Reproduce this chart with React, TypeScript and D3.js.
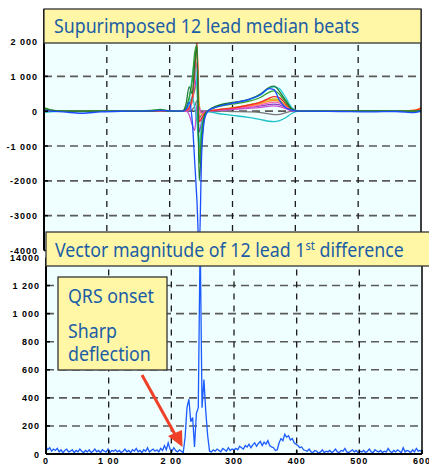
import React from "react";
import * as d3 from "d3";

// ---------- DATA ----------
const X_TOP = [0, 10, 30, 60, 90, 130, 170, 185, 200, 220, 226, 231, 236, 240, 243.5, 247, 251, 256, 262, 275, 300, 325, 345, 358, 366, 375, 385, 395, 405, 420, 470, 520, 560, 590, 600];

const LEAD_NAMES = ["olive", "gray", "purple", "orange", "pink", "magenta", "teal", "cyan", "red", "green", "darkgreen", "blue"];
const LEAD_COLORS = ["#c8b820", "#777777", "#8a3ec8", "#ff9a1a", "#ff5fb0", "#c84fd0", "#1ec0c8", "#2ad0d8", "#f62a2a", "#33a02c", "#1e7b34", "#1c4cff"];

const leadOlive = [20, 0, 0, 0, 0, 0, 0, 20, 0, 0, 10, 60, 350, 600, 800, -1200, -500, -80, 0, 40, 100, 180, 260, 330, 350, 310, 160, 30, 0, 0, 0, 0, 0, 10, 30];
const leadGray = [0, 0, 0, 0, 0, 0, 0, 0, 0, 0, 0, 0, 50, 150, 300, -200, -100, 0, 0, 0, -10, -20, -40, -80, -100, -90, -40, 0, 0, 0, 0, 0, 0, 0, 0];
const leadPurple = [0, 0, 0, 0, 0, 0, 0, 0, 0, 0, 0, 30, 300, 700, 1000, -600, -300, -50, 0, 20, 60, 110, 150, 190, 200, 180, 100, 20, 0, 0, 0, 0, 0, 0, 0];
const leadOrange = [40, 20, 0, 0, 0, 0, 0, 10, 0, 0, 10, 80, 300, 1100, 1750, 200, -100, -30, 0, 30, 80, 150, 220, 290, 310, 280, 150, 30, 0, 0, 0, 0, 0, 30, 100];
const leadPink = [10, 0, 0, 0, 0, 0, 0, 0, 0, 0, 0, 50, 400, 900, 1400, -300, -200, -30, 0, 30, 70, 120, 180, 240, 260, 230, 120, 20, 0, 0, 0, 0, 0, 0, 10];
const leadMagenta = [0, 0, 0, 0, 0, 0, 0, 0, 0, 0, 0, -100, -400, -550, 200, 100, -50, 0, 0, 20, 50, 80, 110, 140, 150, 130, 70, 10, 0, 0, 0, 0, 0, 0, 0];
const leadTeal = [-40, -20, 0, 0, 0, 0, 0, 0, 0, 0, 30, 200, 400, 100, -300, -1050, -400, -100, -20, -60, -120, -180, -240, -290, -300, -270, -180, -60, 0, 0, 0, 0, 0, 0, -20];
const leadCyan = [20, 10, 0, -10, 0, 0, 10, 30, 0, 0, 60, 300, 1000, 1450, 600, -900, -500, -150, 20, 130, 230, 320, 470, 650, 700, 640, 380, 90, 10, 10, 0, 0, 0, 0, 0];
const leadRed = [30, 10, 0, 0, 0, 0, 0, 10, 0, 0, 20, 100, 400, 1200, 2000, -300, -200, -50, 0, 40, 90, 170, 260, 370, 420, 380, 200, 40, 0, 0, 0, 0, 0, 20, 80];
const leadGreen = [100, 40, 10, 0, 10, 0, 20, 50, 10, 0, 100, 400, 900, 1700, 1900, -1500, -600, -80, 20, 120, 200, 280, 400, 540, 580, 480, 250, 50, 0, 0, 0, 0, 10, 0, 0];
const leadDarkGreen = [80, 30, 0, 0, 0, 0, 0, 30, 0, 0, 200, 700, 500, 1400, 1850, -2000, -900, -100, 30, 150, 250, 330, 500, 680, 720, 560, 300, 60, 0, 0, 0, 10, 0, 0, 20];
const leadBlue = [40, 0, -20, -60, -20, 0, 10, 20, 10, 0, 50, 250, -300, -1500, -2600, -4000, -1200, -200, 20, 120, 230, 330, 480, 650, 620, 300, 100, 30, 0, 0, -10, -20, -10, -40, 0];

const LEADS = [leadOlive, leadGray, leadPurple, leadOrange, leadPink, leadMagenta, leadTeal, leadCyan, leadRed, leadGreen, leadDarkGreen, leadBlue];

// vector magnitude, sampled every 3 units from 0 to 600
const MAG_STEP = 3;
const MAG = [
  50, 30, 45, 20, 35, 25, 40, 15, 30, 10, 25, 35, 15, 20, 30, 10, 25, 15, 35, 20, 10,
  25, 15, 30, 10, 20, 35, 15, 25, 10, 30, 20, 15, 35, 10, 25, 20, 30, 15, 25, 10,
  20, 35, 15, 25, 10, 30, 20, 40, 15, 25, 10, 30, 20, 45, 15, 25, 35, 20, 30, 15,
  40, 25, 60, 30, 80, 35, 20, 45, 25, 15, 30, 20, 10,
  120, 330, 390, 230, 260, 50, 290, 330, 1550, 330, 530, 300, 130, 20, 15,
  30, 20, 35, 25, 15, 40, 30, 20, 45, 25, 35, 30,
  40, 30, 55, 45, 35, 60, 50, 70, 45, 65, 80, 55, 75, 90, 60, 85,
  70, 95, 60, 50, 45, 25, 30, 80, 110, 95, 140, 120, 130, 100, 110, 80, 70,
  60, 45, 50, 30, 25, 20, 35, 15, 10, 25, 20, 5, 15, 30, 10, 20, 15,
  25, 10, 20, 35, 15, 10, 25, 20, 40, 15, 10, 20, 30, 15, 25, 10, 20,
  15, 25, 10, 20, 35, 15, 10, 30, 20, 15, 25, 10, 20, 15, 40, 20, 10,
  25, 15, 30, 20, 10, 45, 15, 25, 20, 10, 30, 15, 40, 20, 25, 15,
];

const X_TICKS = [0, 100, 200, 300, 400, 500, 600];
const X_TICK_LABELS = ["0", "1 00", "2 00", "300", "400", "500", "600"];
const TOP_Y_TICKS = [2000, 1000, 0, -1000, -2000, -3000, -4000];
const TOP_Y_LABELS = ["2 000", "1 000", "0", "-1 000", "-2000", "-3000", "-4000"];
const BOT_Y_TICKS = [0, 200, 400, 600, 800, 1000, 1200, 1400];
const BOT_Y_LABELS = ["0", "200", "400", "600", "800", "1 000", "1 200", "14000"];

const TITLE_TOP = "Supurimposed 12 lead median beats";
const TITLE_BOT_A = "Vector magnitude of 12 lead 1";
const TITLE_BOT_SUP = "st";
const TITLE_BOT_B = " difference";
const NOTE_LINES = ["QRS onset", "Sharp", "deflection"];

// ---------- COMPONENT ----------
export default function App() {
  const W = 429, H = 465;
  const BG = "#effefe";
  const BOX = "#fff6a6";
  const TXT = "#1b5ea6";
  const FONT = "'Noto Sans', 'Open Sans', sans-serif";
  const TICKFONT = "'Liberation Sans', Arial, sans-serif";
  const SX = 0.935; // horizontal squeeze of the label font

  // top chart
  const tx = d3.scaleLinear().domain([0, 600]).range([44, 421]);
  const ty = d3.scaleLinear().domain([-4000, 2000]).range([250.5, 41.5]);
  const topY0 = 9;
  const topY1 = 250.5;

  // bottom chart
  const bx = d3.scaleLinear().domain([0, 600]).range([46, 422]);
  const by = d3.scaleLinear().domain([0, 1400]).range([454, 257.5]);

  const leadLine = d3
    .line<number>()
    .x((_, i) => tx(X_TOP[i]))
    .y((d) => ty(d))
    .curve(d3.curveMonotoneX);

  const magLine = d3
    .line<number>()
    .x((_, i) => bx(i * MAG_STEP))
    .y((d) => by(d));

  const hGrid = { stroke: "#5a5a5a", strokeWidth: 1.6, strokeDasharray: "8,5" };
  const vGrid = { stroke: "#1a1a1a", strokeWidth: 1.3, strokeDasharray: "6,6" };

  const Label = ({ x, y, children }: { x: number; y: number; children: React.ReactNode }) => (
    <g transform={`translate(${x},${y}) scale(${SX},1)`}>
      <text x={0} y={0} fontFamily={FONT} fontSize={19} fill={TXT}>
        {children}
      </text>
    </g>
  );

  return (
    <svg width={W} height={H} style={{ position: "absolute", left: 0, top: 0 }} xmlns="http://www.w3.org/2000/svg">
      <rect x={0} y={0} width={W} height={H} fill="#ffffff" />
      <defs>
        <clipPath id="topclip">
          <rect x={tx(0)} y={topY0} width={tx(600) - tx(0)} height={topY1 - topY0} />
        </clipPath>
      </defs>

      {/* ===== TOP CHART ===== */}
      <rect x={tx(0)} y={topY0} width={tx(600) - tx(0)} height={topY1 - topY0} fill={BG} />
      {TOP_Y_TICKS.filter((v) => v < 2000 && v > -4000).map((v) => (
        <line key={"th" + v} x1={tx(0)} x2={tx(600)} y1={ty(v)} y2={ty(v)} {...hGrid} />
      ))}
      {X_TICKS.filter((v) => v > 0 && v < 600).map((v) => (
        <line key={"tv" + v} x1={tx(v)} x2={tx(v)} y1={topY0} y2={topY1} {...vGrid} />
      ))}
      <g clipPath="url(#topclip)">
        {LEADS.map((d, i) => (
          <path key={LEAD_NAMES[i]} d={leadLine(d) || ""} fill="none" stroke={LEAD_COLORS[i]} strokeWidth={1.3} />
        ))}
      </g>
      <line x1={tx(0)} x2={tx(0)} y1={topY0} y2={topY1} stroke="#000" strokeWidth={2} />
      <line x1={tx(600)} x2={tx(600)} y1={topY0} y2={topY1} stroke="#000" strokeWidth={1.5} />
      {TOP_Y_TICKS.map((v, i) => (
        <g key={"tyl" + v}>
          <line x1={tx(0)} x2={tx(0) + 4} y1={ty(v)} y2={ty(v)} stroke="#000" strokeWidth={1.5} />
          <text x={38} y={ty(v) + 3.5} textAnchor="end" fontFamily={TICKFONT} fontWeight="bold" fontSize={9} letterSpacing={1} fill="#000">
            {TOP_Y_LABELS[i]}
          </text>
        </g>
      ))}

      {/* ===== BOTTOM CHART ===== */}
      <rect x={bx(0)} y={by(1400)} width={bx(600) - bx(0)} height={by(0) - by(1400)} fill={BG} />
      {BOT_Y_TICKS.filter((v) => v > 0).map((v) => (
        <line key={"bh" + v} x1={bx(0)} x2={bx(600)} y1={by(v)} y2={by(v)} {...hGrid} />
      ))}
      {X_TICKS.filter((v) => v > 0 && v < 600).map((v) => (
        <line key={"bv" + v} x1={bx(v)} x2={bx(v)} y1={by(1400)} y2={by(0)} {...vGrid} />
      ))}
      <path d={magLine(MAG) || ""} fill="none" stroke="#1c5cff" strokeWidth={1.3} />
      <line x1={bx(0)} x2={bx(0)} y1={by(1400)} y2={by(0)} stroke="#000" strokeWidth={2} />
      <line x1={bx(600)} x2={bx(600)} y1={by(1400)} y2={by(0)} stroke="#000" strokeWidth={1.5} />
      <line x1={bx(0)} x2={bx(600)} y1={by(0)} y2={by(0)} stroke="#000" strokeWidth={2} />
      {BOT_Y_TICKS.map((v, i) => (
        <g key={"byl" + v}>
          <line x1={bx(0)} x2={bx(0) + 4} y1={by(v)} y2={by(v)} stroke="#000" strokeWidth={1.5} />
          <text x={40} y={by(v) + 3.5} textAnchor="end" fontFamily={TICKFONT} fontWeight="bold" fontSize={9} letterSpacing={1} fill="#000">
            {BOT_Y_LABELS[i]}
          </text>
        </g>
      ))}
      {X_TICKS.map((v, i) => (
        <g key={"bxl" + v}>
          <line x1={bx(v)} x2={bx(v)} y1={by(0)} y2={by(0) - 4} stroke="#000" strokeWidth={1.5} />
          <text x={bx(v)} y={464} textAnchor="middle" fontFamily={TICKFONT} fontWeight="bold" fontSize={9} letterSpacing={1} fill="#000">
            {X_TICK_LABELS[i]}
          </text>
        </g>
      ))}

      {/* ===== TITLE BOXES ===== */}
      <rect x={46} y={232} width={390} height={34} fill={BOX} stroke="#333" strokeWidth={1.3} />
      <Label x={55} y={257}>
        {TITLE_BOT_A}
        <tspan fontSize={12} dy={-7}>{TITLE_BOT_SUP}</tspan>
        <tspan dy={7}>{TITLE_BOT_B}</tspan>
      </Label>

      <rect x={44} y={9} width={377} height={34} fill={BOX} stroke="#333" strokeWidth={1.3} />
      <Label x={54} y={33}>{TITLE_TOP}</Label>

      {/* ===== ANNOTATION ===== */}
      <rect x={58} y={277} width={109} height={93} fill={BOX} stroke="#333" strokeWidth={1.3} />
      <Label x={68} y={303}>{NOTE_LINES[0]}</Label>
      <Label x={68} y={338}>{NOTE_LINES[1]}</Label>
      <Label x={68} y={361}>{NOTE_LINES[2]}</Label>

      <line x1={142} y1={375} x2={177} y2={438} stroke="#f04028" strokeWidth={3} />
      <polygon points="182.5,447 168,436 182,430" fill="#f04028" />
    </svg>
  );
}
